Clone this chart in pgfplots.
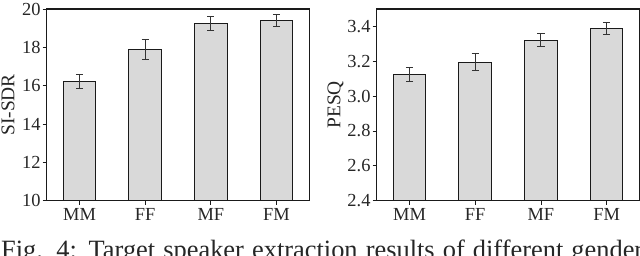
\documentclass[border=0pt]{standalone}
\usepackage{fontspec}
\setmainfont{Liberation Serif}
\usepackage{pgfplots}
\pgfplotsset{compat=1.18}
\definecolor{barfill}{HTML}{D9D9D9}
\definecolor{edge}{HTML}{1A1A1A}
\begin{document}
\begin{tikzpicture}[x=1bp,y=1bp]
\pgfplotsset{
  mystyle/.style={
    scale only axis, width=262.7bp, height=191.7bp,
    xmin=-0.5, xmax=3.5,
    xtick={0,1,2,3}, xticklabels={MM,FF,MF,FM},
    axis line style={line width=1.1bp, edge},
    tick align=outside, major tick length=4bp,
    tick style={line width=0.8bp, edge},
    xtick pos=bottom, ytick pos=left,
    ticklabel style={font=\fontsize{18.5}{21}\selectfont, text=black!85},
    yticklabel style={inner sep=2bp},
    label style={font=\fontsize{19.5}{22}\selectfont, text=black!85},
    /pgf/number format/assume math mode=true,
    ybar, bar width=0.5,
  },
  barstyle/.style={fill=barfill, draw=edge, line width=1bp,
    error bars/.cd, y dir=both, y explicit,
    error bar style={line width=0.9bp, draw=black!80},
    error mark options={rotate=90, mark size=3.6bp, line width=0.9bp, draw=black!80}},
}
\begin{axis}[mystyle, at={(46.7bp,-9bp)}, anchor=north west,
  ymin=10, ymax=20, ytick={10,12,14,16,18,20},
  ylabel={SI-SDR}, ylabel style={at={(rel axis cs:-0.147,0.5)}, anchor=center}]
\addplot[barstyle] coordinates {
  (0,16.23) +- (0,0.38)
  (1,17.89) +- (0,0.50)
  (2,19.23) +- (0,0.37)
  (3,19.39) +- (0,0.31)
};
\end{axis}
\begin{axis}[mystyle, at={(376.7bp,-9bp)}, anchor=north west,
  ymin=2.4, ymax=3.5, ytick={2.4,2.6,2.8,3.0,3.2,3.4},
  yticklabel style={/pgf/number format/.cd, fixed, fixed zerofill, precision=1},
  ylabel={PESQ}, ylabel style={at={(rel axis cs:-0.157,0.5)}, anchor=center}]
\addplot[barstyle] coordinates {
  (0,3.124) +- (0,0.039)
  (1,3.195) +- (0,0.048)
  (2,3.321) +- (0,0.038)
  (3,3.387) +- (0,0.035)
};
\end{axis}
\node[anchor=base west, inner sep=0pt, text=black!85] at (1bp,-258.5bp)
  {\fontsize{26.5}{30}\selectfont\makebox[642bp][s]{Fig. 4: Target speaker extraction results of different gender}};
\pgfresetboundingbox
\path[use as bounding box] (0,0) rectangle (640,-255);
\end{tikzpicture}
\end{document}
